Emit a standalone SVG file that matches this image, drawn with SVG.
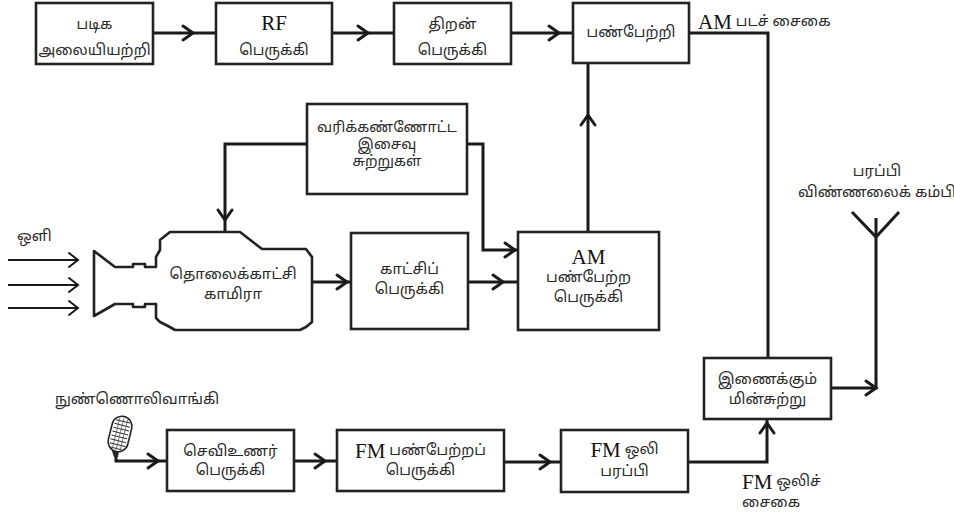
<svg xmlns="http://www.w3.org/2000/svg" xmlns:xlink="http://www.w3.org/1999/xlink" width="954" height="515" viewBox="0 0 954 515">
  <style>
    .box { fill: #fff; stroke: #222; stroke-width: 2.6; }
    .wire { fill: none; stroke: #1a1a1a; stroke-width: 3; stroke-linejoin: miter; }
    .thin { fill: none; stroke: #1a1a1a; stroke-width: 2; }
    .chev { fill: none; stroke: #1a1a1a; stroke-width: 3; stroke-linecap: round; stroke-linejoin: miter; }
    .chev2 { fill: none; stroke: #1a1a1a; stroke-width: 2; stroke-linecap: round; }
    text { dominant-baseline: central; text-anchor: middle; }
    .ta { font-family: "Noto Sans Tamil", "Lohit Tamil", "Latha", "Noto Sans", sans-serif; font-size: 15px; fill: #2a2a2a; }
    .sm { font-size: 14.5px; }
    .lt { font-family: "Liberation Serif", serif; font-size: 21px; fill: #111; }
    .left { text-anchor: start; }
  </style>
  <defs>
    <!-- open chevron, tip at origin, pointing along +x -->
    <path id="chev" class="chev" d="M-10,-7 L0,0 L-10,7"/>
    <path id="chevs" class="chev2" d="M-9,-7 L0,0 L-9,7"/>
  </defs>

  <!-- connectors -->
  <g id="connectors">
    <path class="wire" d="M153,33 H216"/>
    <use xlink:href="#chev" transform="translate(193,33)"/>
    <path class="wire" d="M332,33 H394"/>
    <use xlink:href="#chev" transform="translate(368,33)"/>
    <path class="wire" d="M511,33 H573"/>
    <use xlink:href="#chev" transform="translate(559,33)"/>
    <path class="wire" d="M689,33 H768 V358"/>
    <path class="wire" d="M588,232 V63"/>
    <use xlink:href="#chev" transform="translate(588,115) rotate(-90)"/>
    <path class="wire" d="M307,144 H225 V232"/>
    <use xlink:href="#chev" transform="translate(225,220) rotate(90)"/>
    <path class="wire" d="M467,144 H483 V250 H518"/>
    <use xlink:href="#chev" transform="translate(515,250)"/>
    <path class="wire" d="M312,282 H351"/>
    <use xlink:href="#chev" transform="translate(347,282)"/>
    <path class="wire" d="M468,282 H518"/>
    <use xlink:href="#chev" transform="translate(503,282)"/>
    <!-- incoming light -->
    <path class="thin" d="M8,260 H78 M8,285 H78 M8,308 H78"/>
    <use xlink:href="#chevs" transform="translate(78,260)"/>
    <use xlink:href="#chevs" transform="translate(78,285)"/>
    <use xlink:href="#chevs" transform="translate(78,308)"/>
    <!-- audio chain -->
    <path class="wire" d="M116,452 V461 H167"/>
    <use xlink:href="#chev" transform="translate(158,461)"/>
    <path class="wire" d="M294,461 H337"/>
    <use xlink:href="#chev" transform="translate(325,461)"/>
    <path class="wire" d="M504,462 H561"/>
    <use xlink:href="#chev" transform="translate(550,462)"/>
    <path class="wire" d="M688,462 H767 V419"/>
    <use xlink:href="#chev" transform="translate(767,423) rotate(-90)"/>
    <path class="wire" d="M831,388 H876 V218"/>
    <use xlink:href="#chev" transform="translate(876,388)"/>
    <!-- antenna -->
    <path class="wire" d="M852,212 L876,237 L899,212"/>
  </g>

  <g id="crystal-osc">
    <rect class="box" x="36" y="3" width="117" height="61"/>
    <text class="ta" x="94.5" y="25">படிக</text>
    <text class="ta" x="94.5" y="51">அலையியற்றி</text>
  </g>
  <g id="rf-amp">
    <rect class="box" x="216" y="3" width="116" height="61"/>
    <text class="lt" x="274" y="23">RF</text>
    <text class="ta" x="274" y="51">பெருக்கி</text>
  </g>
  <g id="power-amp">
    <rect class="box" x="394" y="3" width="117" height="61"/>
    <text class="ta" x="452.5" y="25">திறன்</text>
    <text class="ta" x="452.5" y="51">பெருக்கி</text>
  </g>
  <g id="modulator">
    <rect class="box" x="573" y="3" width="116" height="60"/>
    <text class="ta" x="631" y="33">பண்பேற்றி</text>
  </g>
  <g id="scan-sync">
    <rect class="box" x="307" y="104" width="160" height="90"/>
    <text class="ta sm" x="387" y="128">வரிக்கண்ணோட்ட</text>
    <text class="ta sm" x="387" y="145">இசைவு</text>
    <text class="ta sm" x="387" y="162">சுற்றுகள்</text>
  </g>
  <g id="camera">
    <path class="box" stroke-width="2.8" stroke-linejoin="round" d="M94,251 L115,267 H133 V264 H145 V267 H156 V257 L160,250 V240 L170,232 H240 L262,249 H306 L312,257 V322 L306,327 L300,330 H175 L168,326 L160,322 L156,318 V304 H145 V307 H133 V304 H115 L94,316 Z"/>
    <text class="ta" x="233" y="275">தொலைக்காட்சி</text>
    <text class="ta" x="233" y="295">காமிரா</text>
  </g>
  <g id="video-amp">
    <rect class="box" x="351" y="233" width="117" height="96"/>
    <text class="ta" x="409.5" y="270">காட்சிப்</text>
    <text class="ta" x="409.5" y="290">பெருக்கி</text>
  </g>
  <g id="am-mod-amp">
    <rect class="box" x="518" y="232" width="141" height="98"/>
    <text class="lt" x="588.5" y="257">AM</text>
    <text class="ta" x="588.5" y="278">பண்பேற்ற</text>
    <text class="ta" x="588.5" y="298">பெருக்கி</text>
  </g>
  <g id="combiner">
    <rect class="box" x="704" y="358" width="127" height="61"/>
    <text class="ta" x="767.5" y="380">இணைக்கும்</text>
    <text class="ta" x="767.5" y="400">மின்சுற்று</text>
  </g>
  <g id="audio-amp">
    <rect class="box" x="167" y="430" width="127" height="61"/>
    <text class="ta" x="230.5" y="452">செவிஉணர்</text>
    <text class="ta" x="230.5" y="471">பெருக்கி</text>
  </g>
  <g id="fm-mod-amp">
    <rect class="box" x="337" y="430" width="167" height="61"/>
    <text class="ta" x="420.5" y="451"><tspan class="lt">FM</tspan> பண்பேற்றப்</text>
    <text class="ta" x="420.5" y="471">பெருக்கி</text>
  </g>
  <g id="fm-tx">
    <rect class="box" x="561" y="430" width="127" height="62"/>
    <text class="ta" x="624.5" y="450"><tspan class="lt">FM</tspan> ஒலி</text>
    <text class="ta" x="624.5" y="472">பரப்பி</text>
  </g>

  <g id="microphone">
    <g transform="rotate(14 120 434)">
      <rect x="110" y="416" width="20" height="36" rx="10" fill="#fff" stroke="#222" stroke-width="1.6"/>
      <path d="M113,421 H127 M112,425 H128 M112,429 H128 M112,433 H128 M112,437 H128 M112,441 H128 M112,445 H128 M114,449 H126" stroke="#333" stroke-width="1"/>
      <path d="M116,418 V450 M120,417 V451 M124,418 V450" stroke="#555" stroke-width="0.7"/>
    </g>
    <path d="M112,451 L119,451 L118,457 L114,457 Z" fill="#222"/>
  </g>

  <g id="labels">
    <text class="ta left" x="698" y="22"><tspan class="lt">AM</tspan> படச் சைகை</text>
    <text class="ta left" x="17" y="237">ஒளி</text>
    <text class="ta left" x="55" y="400">நுண்ணொலிவாங்கி</text>
    <text class="ta" x="877" y="172">பரப்பி</text>
    <text class="ta" x="877" y="193">விண்ணலைக் கம்பி</text>
    <text class="ta left" x="742" y="482"><tspan class="lt">FM</tspan> ஒலிச்</text>
    <text class="ta left" x="742" y="503">சைகை</text>
  </g>
</svg>
